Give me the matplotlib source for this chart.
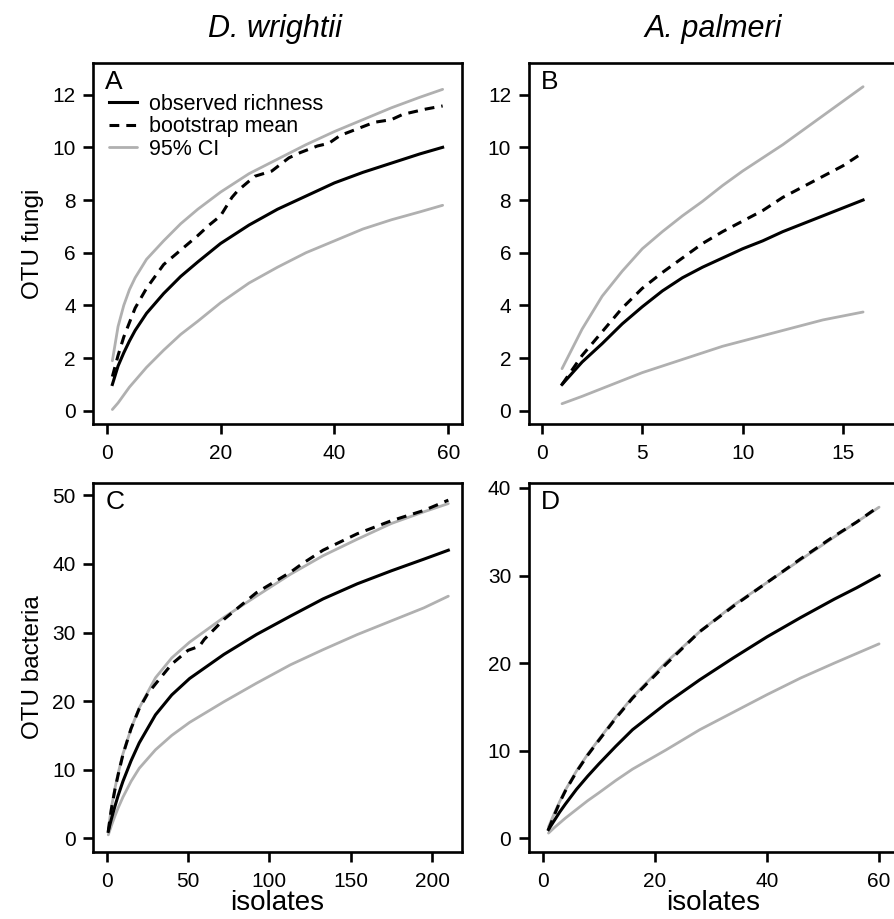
import matplotlib
matplotlib.use("Agg")
import matplotlib.pyplot as plt

plt.rcParams['font.family'] = ['Liberation Sans', 'DejaVu Sans']

# panel A: D. wrightii fungi
a_x = [1, 2, 3, 4, 5, 7, 10, 13, 16, 20, 25, 30, 35, 40, 45, 50, 55, 59]
a_obs = [1.0, 1.7, 2.2, 2.65, 3.05, 3.7, 4.45, 5.1, 5.65, 6.35, 7.05, 7.65, 8.15, 8.65, 9.05, 9.4, 9.75, 10.0]
a_upper = [1.9, 3.2, 4.0, 4.6, 5.05, 5.75, 6.45, 7.1, 7.65, 8.3, 9.0, 9.55, 10.1, 10.6, 11.05, 11.5, 11.9, 12.2]
a_lower = [0.05, 0.3, 0.6, 0.9, 1.15, 1.65, 2.3, 2.9, 3.4, 4.1, 4.85, 5.45, 6.0, 6.45, 6.9, 7.25, 7.55, 7.8]
a_x_boot = [1, 2, 3, 5, 7, 10, 13, 16, 18, 20, 21, 22, 23, 26, 29, 32, 34, 37, 39, 41, 44, 47, 50, 52, 56, 59]
a_boot = [1.3, 2.1, 2.8, 3.9, 4.65, 5.55, 6.1, 6.65, 7.05, 7.4, 7.75, 8.1, 8.35, 8.9, 9.1, 9.6, 9.8, 10.05,
          10.15, 10.45, 10.7, 10.95, 11.05, 11.25, 11.45, 11.57]

# panel B: A. palmeri fungi
b_x = list(range(1, 17))
b_obs = [1.0, 1.85, 2.55, 3.3, 3.95, 4.55, 5.05, 5.45, 5.8, 6.15, 6.45, 6.8, 7.1, 7.4, 7.7, 8.0]
b_boot = [1.0, 2.1, 3.0, 3.9, 4.65, 5.25, 5.8, 6.35, 6.8, 7.2, 7.6, 8.1, 8.5, 8.9, 9.3, 9.8]
b_upper = [1.6, 3.1, 4.35, 5.3, 6.15, 6.8, 7.4, 7.95, 8.55, 9.1, 9.6, 10.1, 10.65, 11.2, 11.75, 12.3]
b_lower = [0.27, 0.55, 0.85, 1.15, 1.45, 1.7, 1.95, 2.2, 2.45, 2.65, 2.85, 3.05, 3.25, 3.45, 3.6, 3.75]

# panel C: D. wrightii bacteria
c_x = [1, 2, 3, 5, 7, 10, 15, 20, 30, 40, 51, 72, 92, 113, 133, 154, 175, 195, 210]
c_obs = [1.0, 2.0, 2.9, 4.6, 6.2, 8.3, 11.3, 13.9, 18.0, 20.9, 23.3, 26.8, 29.7, 32.4, 34.9, 37.1, 39.0, 40.7, 42.0]
c_upper = [1.2, 3.0, 4.6, 7.2, 9.4, 12.3, 16.0, 19.0, 23.4, 26.3, 28.6, 32.2, 35.3, 38.5, 41.2, 43.6, 45.9, 47.6, 48.8]
c_lower = [0.5, 1.2, 1.9, 3.2, 4.4, 6.0, 8.3, 10.2, 12.9, 15.0, 16.9, 19.9, 22.6, 25.3, 27.5, 29.7, 31.7, 33.6, 35.3]
c_x_boot = [1, 2, 3, 5, 7, 10, 15, 20, 25, 30, 40, 50, 57, 60, 72, 92, 113, 120, 133, 154, 175, 195, 210]
c_boot = [1.0, 2.8, 4.4, 7.0, 9.2, 12.2, 16.0, 18.9, 21.0, 22.5, 25.4, 27.4, 28.0, 29.0, 31.9, 35.8, 38.8,
          40.0, 42.0, 44.4, 46.3, 47.8, 49.3]

# panel D: A. palmeri bacteria
d_x = [1, 2, 3, 4, 6, 8, 10, 13, 16, 22, 28, 34, 40, 46, 52, 56, 60]
d_obs = [1.0, 2.0, 3.0, 3.9, 5.6, 7.1, 8.5, 10.5, 12.4, 15.4, 18.1, 20.6, 23.0, 25.2, 27.3, 28.6, 30.0]
d_boot = [1.0, 2.6, 4.1, 5.4, 7.6, 9.5, 11.2, 13.7, 16.0, 19.9, 23.6, 26.5, 29.2, 31.9, 34.5, 36.1, 37.9]
d_upper = [1.3, 2.8, 4.2, 5.5, 7.7, 9.6, 11.3, 13.8, 16.1, 20.1, 23.6, 26.6, 29.2, 31.8, 34.4, 36.1, 37.8]
d_lower = [0.6, 1.2, 1.75, 2.3, 3.3, 4.3, 5.2, 6.6, 7.9, 10.1, 12.4, 14.4, 16.4, 18.3, 20.0, 21.1, 22.2]

gray = '#b0b0b0'
W, H = 894, 919
fig = plt.figure(figsize=(W / 100, H / 100), dpi=100)


def make_ax(l, t, r, b):
    ax = fig.add_axes([l / W, 1 - b / H, (r - l) / W, (b - t) / H])
    for s in ax.spines.values():
        s.set_linewidth(1.9)
    ax.tick_params(direction='out', length=7.5, width=1.9, labelsize=15, pad=7)
    ax.tick_params(axis='y', pad=5)
    return ax


def curves(ax, xo, obs, xb, boot, up, low):
    ax.plot(xo, up, color=gray, lw=2.0, label='95% CI', solid_capstyle='round')
    ax.plot(xo, low, color=gray, lw=2.0, solid_capstyle='round')
    ax.plot(xb, boot, color='black', lw=2.2, ls=(0, (3.2, 2.3)), label='bootstrap mean')
    ax.plot(xo, obs, color='black', lw=2.2, label='observed richness')


axA = make_ax(93, 63, 462, 424)
curves(axA, a_x, a_obs, a_x_boot, a_boot, a_upper, a_lower)
axA.set_xlim(-2.4, 62.4)
axA.set_ylim(-0.5, 13.2)
axA.set_xticks([0, 20, 40, 60])
axA.set_yticks([0, 2, 4, 6, 8, 10, 12])
axA.set_ylabel('OTU fungi', fontsize=17.5, labelpad=6)
h, l = axA.get_legend_handles_labels()
axA.legend(h[::-1], l[::-1], loc='upper left', bbox_to_anchor=(0.0, 0.96), frameon=False,
           fontsize=15.5, handlelength=1.3, handletextpad=0.55, labelspacing=0.08, borderaxespad=0.35)

axB = make_ax(528.5, 63, 897, 424)
curves(axB, b_x, b_obs, b_x, b_boot, b_upper, b_lower)
axB.set_xlim(-0.67, 17.69)
axB.set_ylim(-0.5, 13.2)
axB.set_xticks([0, 5, 10, 15])
axB.set_yticks([0, 2, 4, 6, 8, 10, 12])

axC = make_ax(93, 483, 462, 852)
curves(axC, c_x, c_obs, c_x_boot, c_boot, c_upper, c_lower)
axC.set_xlim(-8.4, 218.4)
axC.set_ylim(-2.0, 51.8)
axC.set_xticks([0, 50, 100, 150, 200])
axC.set_yticks([0, 10, 20, 30, 40, 50])
axC.set_ylabel('OTU bacteria', fontsize=17.5, labelpad=6)
axC.set_xlabel('isolates', fontsize=20, labelpad=-1)

axD = make_ax(528.5, 483, 897, 852)
curves(axD, d_x, d_obs, d_x, d_boot, d_upper, d_lower)
axD.set_xlim(-2.57, 63.2)
axD.set_ylim(-1.56, 40.56)
axD.set_xticks([0, 20, 40, 60])
axD.set_yticks([0, 10, 20, 30, 40])
axD.set_xlabel('isolates', fontsize=20, labelpad=-1)

for ax, letter in zip([axA, axB, axC, axD], 'ABCD'):
    ax.text(0.033, 0.98, letter, transform=ax.transAxes, fontsize=19, va='top', ha='left')

fig.text(275 / W, 1 - 29 / H, 'D. wrightii', fontsize=22, style='italic', ha='center', va='center')
fig.text(713 / W, 1 - 29 / H, 'A. palmeri', fontsize=22, style='italic', ha='center', va='center')

fig.savefig('out.png', dpi=100)
